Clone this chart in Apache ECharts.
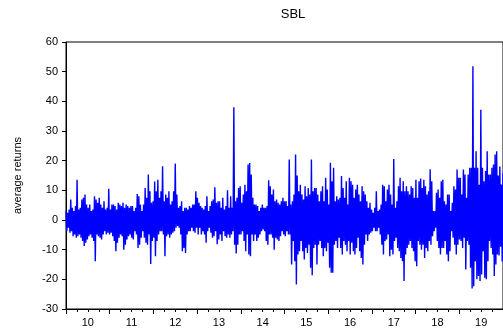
<!DOCTYPE html>
<html>
<head>
<meta charset="utf-8">
<script src="https://cdn.jsdelivr.net/npm/echarts@6/dist/echarts.min.js"></script>
<style>
html,body{margin:0;padding:0;background:#fff;}
#chart{width:503px;height:333px;}
</style>
</head>
<body>
<div id="chart"></div>
<script>
// Title / labels
const chartTitle = 'SBL';
const yAxisName = 'average returns';
const yearLabels = ['10','11','12','13','14','15','16','17','18','19'];
const startYear = 2010;
const endYear = 2020;
const pointsPerYear = 55.2;

// average returns (alternating local highs / lows)
const returns2010_2011 = [
3.0,-3.8, 2.4,-2.6, 3.5,-4.3, 6.9,-3.8, 4.1,-5.5, 3.0,-4.9, 4.7,-6.0, 13.6,-5.5, 3.5,-4.9, 4.1,-6.0,
6.9,-7.1, 7.5,-8.8, 8.6,-7.7, 5.2,-6.6, 4.1,-5.5, 5.2,-4.9, 3.0,-6.0, 3.5,-7.1, 8.0,-13.9, 6.9,-4.9,
5.8,-5.5, 7.5,-6.0, 5.2,-6.6, 4.1,-4.9, 6.3,-3.8, 3.5,-4.9, 4.1,-4.3, 10.5,-4.9, 3.5,-4.3, 5.2,-5.5,
5.2,-7.1, 4.7,-10.5, 3.5,-7.7, 5.8,-6.0, 5.2,-4.9, 4.7,-5.5, 5.8,-10.0, 4.1,-8.3, 5.2,-6.6, 4.7,-5.5,
4.1,-4.9, 4.7,-6.0, 4.7,-6.6, 3.0,-3.8, 4.1,-4.9, 8.8,-9.4
];
const returns2011_2013 = [
8.0,-8.3, 5.2,-6.0, 3.0,-3.8, 5.2,-6.0, 10.8,-7.7, 7.5,-8.3, 15.3,-4.9, 9.7,-14.8, 5.8,-7.1, 6.3,-6.0,
13.0,-12.2, 9.7,-7.1, 13.6,-4.9, 7.5,-3.8, 9.7,-3.8, 18.1,-4.9, 6.3,-12.2, 8.6,-5.5, 7.5,-4.9, 9.7,-6.0,
5.2,-4.9, 6.3,-4.3, 9.7,-3.8, 19.0,-2.6, 8.6,-2.0, 4.1,-2.6, 4.7,-4.9, 6.3,-10.5, 3.0,-9.4, 4.1,-11.1,
4.1,-4.9, 3.5,-3.8, 4.7,-3.8, 4.1,-2.6, 5.2,-3.8, 5.2,-4.3, 9.7,-2.6, 7.5,-4.9, 5.8,-2.6, 4.7,-4.9,
4.1,-3.8, 3.5,-4.9, 4.7,-7.7, 8.0,-3.8, 3.0,-2.6, 4.7,-4.3
];
const returns2013_2015 = [
6.3,-6.0, 6.9,-5.5, 11.0,-3.8, 5.8,-8.2, 6.3,-6.6, 6.3,-4.9, 4.1,-7.1, 7.5,-3.8, 3.5,-5.5, 4.7,-6.0,
10.0,-4.9, 4.1,-6.0, 8.0,-4.9, 4.1,-3.8, 38.0,-8.3, 6.3,-11.3, 7.5,-8.3, 10.8,-4.9, 11.4,-4.9, 5.8,-3.8,
8.6,-7.1, 11.9,-10.5, 9.7,-4.9, 18.7,-11.6, 19.2,-12.2, 15.3,-4.9, 7.5,-7.1, 5.2,-4.9, 5.2,-7.1, 4.7,-6.0,
3.0,-4.9, 4.1,-3.8, 5.2,-3.2, 4.1,-3.8, 4.1,-7.1, 4.7,-8.3, 13.4,-4.9, 11.4,-4.9, 8.6,-6.0, 10.3,-10.0,
6.3,-6.0, 6.9,-6.6, 5.8,-7.1, 5.2,-5.5, 6.3,-3.8, 7.5,-4.9, 6.3,-5.5
];
const returns2015_2016 = [
6.3,-3.8, 4.7,-4.9, 20.4,-4.9, 5.2,-15.0, 6.3,-7.1, 8.6,-13.9, 22.1,-21.7, 15.0,-11.6, 9.7,-10.5, 11.9,-7.1,
8.6,-10.5, 6.9,-13.3, 11.4,-9.4, 8.0,-11.1, 10.8,-8.3, 8.6,-16.1, 20.4,-18.6, 9.7,-9.4, 10.8,-8.3, 10.8,-15.0,
8.6,-8.3, 6.3,-7.1, 9.7,-9.4, 11.4,-12.2, 6.3,-9.4, 14.2,-10.5, 10.3,-7.7, 5.2,-16.1, 19.3,-17.8, 13.1,-17.8,
17.6,-8.3, 6.3,-7.1, 8.0,-9.4, 6.9,-6.0, 7.5,-9.4, 14.8,-11.6, 10.8,-7.1, 7.5,-8.3, 13.1,-10.5, 5.2,-7.1,
14.2,-11.6, 13.1,-7.7, 11.9,-10.5, 7.5,-11.6, 10.3,-9.4, 11.9,-6.0, 8.6,-10.5
];
const returns2016_2018 = [
6.3,-12.8, 11.4,-15.0, 9.7,-8.3, 8.6,-4.9, 6.3,-7.1, 4.1,-4.9, 5.8,-4.3, 3.5,-3.8, 2.4,-2.6, 4.1,-3.8,
9.7,-3.8, 3.0,-2.6, 3.5,-4.9, 5.2,-8.3, 11.9,-11.6, 11.4,-7.1, 6.3,-6.6, 10.3,-4.9, 11.9,-12.2, 8.6,-10.0,
5.2,-11.6, 20.6,-7.1, 4.1,-6.0, 6.3,-9.4, 11.4,-10.5, 14.2,-12.8, 9.7,-13.9, 13.1,-20.6, 9.7,-11.6, 11.4,-9.4,
9.7,-8.3, 8.6,-7.1, 11.4,-9.4, 10.8,-10.5, 7.5,-13.9, 13.6,-15.6, 7.5,-7.1, 13.1,-8.3, 14.0,-10.0, 10.8,-8.3,
13.6,-12.8, 11.4,-9.4, 8.6,-10.5, 9.7,-7.1, 17.1,-8.3, 13.1,-5.5, 3.0,-3.8
];
const returns2018_2019 = [
3.0,-2.6, 9.2,-7.1, 10.3,-9.4, 7.5,-11.6, 13.1,-9.4, 13.6,-9.4, 6.3,-7.1, 5.2,-11.6, 8.6,-13.9, 8.6,-10.5,
3.0,-3.8, 5.8,-6.0, 11.4,-8.3, 10.3,-11.6, 17.0,-8.3, 14.2,-6.6, 14.2,-7.1, 8.6,-9.4, 17.0,-6.0,
15.3,-16.7, 7.5,-7.1, 15.3,-8.3, 17.6,-16.1, 17.6,-23.1, 51.8,-22.3, 17.6,-13.9, 23.2,-20.0, 17.6,-18.9, 11.9,-20.6,
37.2,-18.4, 17.6,-10.5, 13.1,-19.5, 16.5,-20.0, 23.2,-13.9, 15.3,-7.1, 15.3,-9.4, 17.6,-11.6, 18.7,-18.9, 22.1,-15.0,
23.2,-11.6, 15.0,-12.0, 18.0,-9.0, 12.0,-14.0, 16.0,-10.0
];

const returns = [].concat(returns2010_2011, returns2011_2013, returns2013_2015,
  returns2015_2016, returns2016_2018, returns2018_2019);
const seriesData = returns.map((v, i) => [startYear + i / pointsPerYear, v]);

const FONT = '"Liberation Sans", Arial, sans-serif';
const chart = echarts.init(document.getElementById('chart'), null, {renderer: 'canvas'});
chart.setOption({
  animation: false,
  backgroundColor: '#fff',
  title: {
    text: chartTitle,
    left: 288,
    top: 3,
    textAlign: 'center',
    textStyle: {fontFamily: FONT, fontSize: 13, fontWeight: 'normal', color: '#000'}
  },
  grid: {
    left: 66, top: 42, width: 444, height: 267,
    show: true, borderColor: '#000', borderWidth: 1, backgroundColor: 'transparent',
    containLabel: false
  },
  xAxis: [
    {
      type: 'category',
      data: yearLabels,
      boundaryGap: true,
      position: 'bottom',
      axisLine: {show: true, onZero: false, lineStyle: {color: '#000', width: 1}},
      axisTick: {show: false},
      axisLabel: {fontFamily: FONT, fontSize: 11, color: '#000', margin: 8},
      splitLine: {show: false}
    },
    {
      type: 'value',
      min: startYear,
      max: endYear,
      interval: 1,
      position: 'bottom',
      axisLine: {show: false, onZero: false},
      axisTick: {show: true, length: 5, lineStyle: {color: '#000'}},
      minorTick: {show: true, splitNumber: 4, length: 3, lineStyle: {color: '#000'}},
      axisLabel: {show: false},
      splitLine: {show: false}
    }
  ],
  yAxis: {
    type: 'value',
    min: -30, max: 60, interval: 10,
    name: yAxisName,
    nameLocation: 'middle',
    nameRotate: 90,
    nameGap: 43,
    nameTextStyle: {fontFamily: FONT, fontSize: 11, color: '#000'},
    axisLine: {show: true, lineStyle: {color: '#000', width: 1}},
    axisTick: {show: true, length: 4, lineStyle: {color: '#000'}},
    axisLabel: {fontFamily: FONT, fontSize: 11, color: '#000', margin: 8},
    splitLine: {show: false}
  },
  series: [{
    type: 'line',
    xAxisIndex: 1,
    data: seriesData,
    showSymbol: false,
    symbol: 'none',
    sampling: null,
    lineStyle: {color: '#0000ff', width: 1.4},
    itemStyle: {color: '#0000ff'}
  }]
});
</script>
</body>
</html>
